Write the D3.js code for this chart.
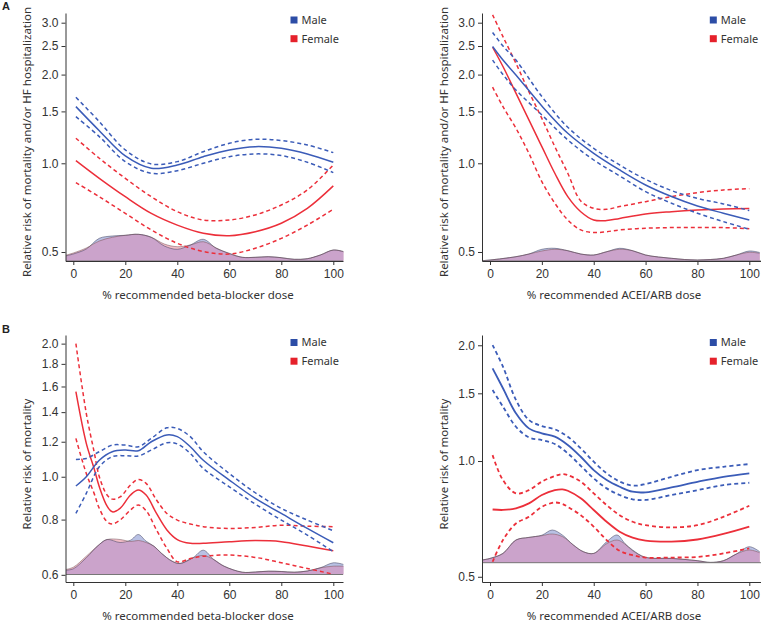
<!DOCTYPE html>
<html><head><meta charset="utf-8">
<script src="https://cdn.jsdelivr.net/npm/d3@7"></script>
<style>
body{margin:0;background:#fff;}
svg{display:block;}
</style></head><body>
<svg id="chart" width="761" height="625"></svg>
<script>
// ---------- DATA ----------
const xTicks = [0, 20, 40, 60, 80, 100];
const yTicksA = [0.5, 1.0, 1.5, 2.0, 2.5, 3.0];
const yTicksB1 = [0.6, 0.8, 1.0, 1.2, 1.4, 1.6, 1.8, 2.0];
const yTicksB2 = [0.5, 1.0, 1.5, 2.0];
const legendLabels = ["Male", "Female"];

// Panel A, beta-blocker
const a1X = [1, 10, 20, 30, 40, 50, 60, 70, 80, 90, 100];
const a1MaleFit = [1.557, 1.29, 1.059, 0.962, 0.987, 1.053, 1.11, 1.139, 1.124, 1.076, 1.008];
const a1MaleHi  = [1.675, 1.385, 1.11, 0.995, 1.013, 1.095, 1.169, 1.206, 1.194, 1.154, 1.087];
const a1MaleLo  = [1.44, 1.232, 1.013, 0.925, 0.944, 1.0, 1.053, 1.076, 1.062, 1.008, 0.93];
const a1FemFit  = [1.021, 0.889, 0.77, 0.676, 0.617, 0.579, 0.568, 0.586, 0.626, 0.703, 0.838];
const a1FemHi   = [1.216, 1.04, 0.889, 0.77, 0.685, 0.642, 0.642, 0.668, 0.722, 0.812, 0.987];
const a1FemLo   = [0.86, 0.77, 0.676, 0.594, 0.535, 0.502, 0.492, 0.515, 0.556, 0.617, 0.698];
const a1DensX = [-3, 0, 5, 10, 15, 20, 25, 30, 35, 40, 45, 50, 55, 60, 65, 70, 75, 80, 85, 90, 95, 100, 104];
const a1DensM = [5, 7, 12, 22.7, 25, 25.7, 26.7, 23.7, 15, 11.7, 16, 21.7, 12.7, 7.7, 3.7, 3.7, 4.3, 3.3, 1.7, 2.3, 6, 11, 9.3];
const a1DensF = [5.7, 8, 13, 20, 23.7, 25.7, 26.7, 23.7, 17, 14.3, 16, 19.3, 13, 7.3, 3.7, 3.7, 4.3, 3.3, 1.7, 2.3, 6, 11, 9.3];

// Panel A, ACEI/ARB
const a2MaleX = [1, 5, 10, 20, 30, 40, 50, 60, 70, 80, 90, 100];
const a2MaleFit = [2.49, 2.24, 1.995, 1.565, 1.264, 1.081, 0.949, 0.844, 0.771, 0.716, 0.677, 0.642];
const a2MaleHi  = [2.78, 2.5, 2.24, 1.684, 1.325, 1.124, 0.987, 0.882, 0.808, 0.76, 0.728, 0.691];
const a2MaleLo  = [2.24, 2.0, 1.774, 1.459, 1.2, 1.026, 0.906, 0.801, 0.732, 0.677, 0.634, 0.597];
const a2FemX = [1, 5, 10, 15, 20, 25, 30, 35, 40, 45, 50, 60, 70, 80, 90, 100];
const a2FemFit = [2.476, 2.13, 1.73, 1.403, 1.139, 0.925, 0.771, 0.685, 0.642, 0.639, 0.65, 0.673, 0.685, 0.694, 0.7, 0.702];
const a2FemHi  = [3.19, 2.69, 2.185, 1.75, 1.42, 1.139, 0.925, 0.745, 0.703, 0.698, 0.713, 0.741, 0.771, 0.795, 0.812, 0.82];
const a2FemLo  = [1.812, 1.557, 1.315, 1.081, 0.866, 0.732, 0.642, 0.594, 0.582, 0.586, 0.594, 0.602, 0.605, 0.606, 0.605, 0.6];
const a2DensX = [-3, 0, 5, 10, 15, 20, 25, 30, 35, 40, 45, 50, 55, 60, 65, 70, 75, 80, 85, 90, 95, 100, 104];
const a2DensM = [0.3, 1, 2.5, 4.3, 7, 11.7, 12.7, 10.3, 7, 6, 9.3, 12.7, 10.3, 6, 4, 2.7, 1.5, 1, 1.5, 2.7, 6, 10, 8.5];
const a2DensF = [0.3, 1, 2.5, 4.3, 7, 10, 11.7, 10.3, 7, 6, 9.3, 11.7, 10.3, 6, 4, 2.7, 1.5, 1, 1.5, 2.7, 6, 8.7, 7.7];

// Panel B, beta-blocker
const b1MaleX = [1, 5, 10, 15, 20, 25, 30, 36, 40, 45, 50, 60, 70, 80, 90, 100];
const b1MaleFit = [0.953, 1.0, 1.09, 1.139, 1.149, 1.145, 1.2, 1.243, 1.232, 1.169, 1.09, 0.983, 0.893, 0.826, 0.764, 0.709];
const b1MaleHi  = [1.094, 1.1, 1.139, 1.179, 1.179, 1.169, 1.221, 1.29, 1.286, 1.232, 1.139, 1.017, 0.92, 0.848, 0.798, 0.755];
const b1MaleLo  = [0.826, 0.917, 1.053, 1.11, 1.116, 1.114, 1.149, 1.194, 1.186, 1.129, 1.044, 0.949, 0.867, 0.798, 0.738, 0.677];
const b1FemX = [1, 5, 8, 10, 13, 15, 18, 22, 25, 28, 32, 36, 40, 45, 50, 60, 70, 80, 90, 100];
const b1FemFit = [1.557, 1.19, 1.044, 0.949, 0.858, 0.833, 0.848, 0.909, 0.933, 0.909, 0.826, 0.758, 0.721, 0.707, 0.707, 0.713, 0.717, 0.713, 0.697, 0.68];
const b1FemHi  = [2.0, 1.39, 1.139, 1.0, 0.909, 0.89, 0.9, 0.958, 0.986, 0.966, 0.886, 0.826, 0.798, 0.782, 0.771, 0.764, 0.768, 0.777, 0.773, 0.771];
const b1FemLo  = [1.221, 1.017, 0.917, 0.848, 0.791, 0.782, 0.798, 0.841, 0.863, 0.838, 0.758, 0.689, 0.642, 0.653, 0.661, 0.665, 0.657, 0.639, 0.62, 0.602];
const b1DensX = [-3, 0, 5, 10, 13, 18, 22, 25, 28, 31, 34, 38, 41, 46, 50, 54, 58, 65, 70, 75, 80, 85, 90, 95, 100, 104];
const b1DensM = [4.3, 5.7, 16.7, 30, 35, 32, 34.3, 40, 33.3, 28.3, 21, 13.3, 11, 16.7, 24.3, 15, 8.3, 2.3, 2.5, 3.3, 3, 2.3, 3.5, 6.7, 11.7, 10];
const b1DensF = [5, 7.3, 18.3, 30, 35, 35, 33, 34, 32, 28.3, 21, 13.3, 11, 16.7, 19, 15, 8.3, 2.3, 2.5, 3.3, 3, 2.3, 3.5, 6.7, 8.3, 8.3];

// Panel B, ACEI/ARB
const b2MaleX = [1, 5, 10, 15, 20, 25, 30, 35, 40, 45, 50, 55, 60, 70, 80, 90, 100];
const b2MaleFit = [1.742, 1.546, 1.331, 1.216, 1.18, 1.157, 1.101, 1.026, 0.947, 0.892, 0.857, 0.832, 0.829, 0.854, 0.883, 0.91, 0.929];
const b2MaleHi  = [2.003, 1.76, 1.442, 1.279, 1.233, 1.209, 1.157, 1.079, 0.996, 0.929, 0.884, 0.863, 0.871, 0.91, 0.947, 0.966, 0.982];
const b2MaleLo  = [1.53, 1.385, 1.228, 1.152, 1.134, 1.107, 1.047, 0.972, 0.901, 0.849, 0.816, 0.795, 0.792, 0.816, 0.84, 0.866, 0.878];
const b2FemX = [1, 5, 10, 15, 20, 25, 28, 30, 35, 40, 45, 50, 55, 60, 70, 80, 90, 100];
const b2FemFit = [0.748, 0.746, 0.753, 0.776, 0.816, 0.84, 0.844, 0.837, 0.8, 0.746, 0.695, 0.655, 0.632, 0.621, 0.617, 0.625, 0.646, 0.675];
const b2FemHi  = [1.036, 0.892, 0.824, 0.84, 0.884, 0.914, 0.925, 0.919, 0.884, 0.824, 0.768, 0.723, 0.695, 0.681, 0.672, 0.681, 0.716, 0.765];
const b2FemLo  = [0.547, 0.623, 0.688, 0.716, 0.76, 0.78, 0.773, 0.76, 0.723, 0.675, 0.623, 0.584, 0.569, 0.561, 0.561, 0.563, 0.575, 0.593];
const b2DensX = [-3, 0, 5, 10, 15, 20, 24, 28, 32, 36, 40, 45, 49, 52, 55, 60, 70, 80, 85, 90, 95, 100, 104];
const b2DensM = [2.7, 4.3, 9.3, 22.7, 25.3, 27.5, 32.7, 27.5, 18, 11, 9.3, 21, 27.7, 19.3, 12.7, 5.3, 4.3, 2, 0.3, 2, 8.7, 16, 11];
const b2DensF = [2.7, 4.3, 9.3, 22.7, 25.3, 27, 28.7, 26, 18, 11, 9.3, 19, 22.7, 18.7, 12, 5.3, 4.3, 2, 0.3, 2, 8.7, 12.7, 10];

// ---------- LAYOUT / STYLE ----------
const C = {
  male: "#3b5cb8", female: "#ec2f3a",
  maleKey: "#2c4da6", femaleKey: "#e5212b",
  densM: "#b9c1e4", densF: "#f3bdc7", densBoth: "#cba3cb",
  axis: "#333", text: "#333"
};
const tickFont = "'Liberation Sans', Arial, sans-serif";
const titleFont = "'Noto Sans', 'Open Sans', sans-serif";

const panels = [
  { letter: "A", left: 65.5, right: 343, top: 13, bottom: 261, x0: 73.3, x100: 333.3,
    yDom: [0.466, 3.236], yTicks: yTicksA, densBase: 261,
    ytitle: "Relative risk of mortality and/or HF hospitalization", ytx: 27, yty: 142,
    xtitle: "% recommended beta-blocker dose", xtx: 198, xty: 299,
    legX: 294, legY: 20,
    male: [a1X, a1MaleFit, a1MaleHi, a1MaleLo], fem: [a1X, a1FemFit, a1FemHi, a1FemLo],
    dens: [a1DensX, a1DensM, a1DensF], lw: 1.5 },
  { letter: null, left: 482, right: 761, top: 13, bottom: 261, x0: 490, x100: 749.3,
    yDom: [0.466, 3.236], yTicks: yTicksA, densBase: 261,
    ytitle: "Relative risk of mortality and/or HF hospitalization", ytx: 443.5, yty: 142,
    xtitle: "% recommended ACEI/ARB dose", xtx: 614, xty: 299,
    legX: 713.3, legY: 20,
    male: [a2MaleX, a2MaleFit, a2MaleHi, a2MaleLo], fem: [a2FemX, a2FemFit, a2FemHi, a2FemLo],
    dens: [a2DensX, a2DensM, a2DensF], lw: 1.5 },
  { letter: "B", left: 65.5, right: 343, top: 335, bottom: 582, x0: 73.3, x100: 333.3,
    yDom: [0.578, 2.092], yTicks: yTicksB1, densBase: 574.5,
    ytitle: "Relative risk of mortality", ytx: 27, yty: 464,
    xtitle: "% recommended beta-blocker dose", xtx: 198, xty: 620,
    legX: 294, legY: 342.5,
    male: [b1MaleX, b1MaleFit, b1MaleHi, b1MaleLo], fem: [b1FemX, b1FemFit, b1FemHi, b1FemLo],
    dens: [b1DensX, b1DensM, b1DensF], lw: 1.5 },
  { letter: null, left: 482, right: 761, top: 335, bottom: 582, x0: 490, x100: 749.3,
    yDom: [0.4846, 2.127], yTicks: yTicksB2, densBase: 562.7,
    ytitle: "Relative risk of mortality", ytx: 443.5, yty: 464,
    xtitle: "% recommended ACEI/ARB dose", xtx: 614, xty: 620,
    legX: 713.3, legY: 342.5,
    male: [b2MaleX, b2MaleFit, b2MaleHi, b2MaleLo], fem: [b2FemX, b2FemFit, b2FemHi, b2FemLo],
    dens: [b2DensX, b2DensM, b2DensF], lw: 1.8 }
];

const svg = d3.select("#chart");
const defs = svg.append("defs");

panels.forEach((p, i) => {
  const k = (p.x100 - p.x0) / 100;
  const x = d3.scaleLinear()
    .domain([(p.left - p.x0) / k, (p.right - p.x0) / k])
    .range([p.left, p.right]);
  const y = d3.scaleLog().domain(p.yDom).range([p.bottom, p.top]);
  const dScale = d3.scaleLinear().domain([0, 40]).range([p.densBase, p.densBase - 40]);

  const clipId = "clip" + i;
  defs.append("clipPath").attr("id", clipId).append("rect")
    .attr("x", p.left + 0.5).attr("y", p.top - 5)
    .attr("width", p.right - p.left).attr("height", p.bottom - p.top + 5);

  const g = svg.append("g");
  const plot = g.append("g").attr("clip-path", `url(#${clipId})`);

  // density areas
  const [dx, dm, df] = p.dens;
  const curve = d3.curveCatmullRom.alpha(0.5);
  const area = d3.area().x(d => x(d[0])).y0(p.densBase).y1(d => dScale(d[1])).curve(curve);
  const line = d3.line().x(d => x(d[0])).y(d => dScale(d[1])).curve(curve);
  const mPts = dx.map((v, j) => [v, dm[j]]);
  const fPts = dx.map((v, j) => [v, df[j]]);
  const bothPts = dx.map((v, j) => [v, Math.min(dm[j], df[j])]);
  plot.append("path").attr("d", area(mPts)).attr("fill", C.densM);
  plot.append("path").attr("d", area(fPts)).attr("fill", C.densF);
  plot.append("path").attr("d", area(bothPts)).attr("fill", C.densBoth);
  plot.append("path").attr("d", line(mPts)).attr("fill", "none")
    .attr("stroke", "#4a4a66").attr("stroke-width", 0.8).attr("stroke-opacity", 0.7);
  plot.append("path").attr("d", line(fPts)).attr("fill", "none")
    .attr("stroke", "#6a4a50").attr("stroke-width", 0.8).attr("stroke-opacity", 0.6);
  plot.append("line").attr("x1", p.left).attr("x2", p.right)
    .attr("y1", p.densBase).attr("y2", p.densBase)
    .attr("stroke", "#777").attr("stroke-width", 1);

  // curves
  const cl = d3.line().x(d => x(d[0])).y(d => y(d[1])).curve(curve);
  const drawSet = (set, color) => {
    const [xs, fit, hi, lo] = set;
    [[hi, "4,3"], [lo, "4,3"], [fit, null]].forEach(([vals, dash]) => {
      const path = plot.append("path")
        .attr("d", cl(xs.map((v, j) => [v, vals[j]])))
        .attr("fill", "none").attr("stroke", color).attr("stroke-width", p.lw);
      if (dash) path.attr("stroke-dasharray", dash);
    });
  };
  drawSet(p.fem, C.female);
  drawSet(p.male, C.male);

  // axes
  const xAxis = d3.axisBottom(x).tickValues(xTicks).tickSize(4).tickSizeOuter(0).tickPadding(4);
  const yAxis = d3.axisLeft(y).tickValues(p.yTicks).tickFormat(d3.format(".1f"))
    .tickSize(4).tickSizeOuter(0).tickPadding(3);
  const gx = g.append("g").attr("transform", `translate(0,${p.bottom})`).call(xAxis);
  const gy = g.append("g").attr("transform", `translate(${p.left},0)`).call(yAxis);
  [gx, gy].forEach(a => {
    a.select(".domain").attr("stroke", C.axis);
    a.selectAll(".tick line").attr("stroke", C.axis);
    a.selectAll(".tick text").attr("fill", C.text)
      .style("font-family", tickFont).style("font-size", "12px");
  });

  // titles
  g.append("text").attr("x", p.xtx).attr("y", p.xty)
    .attr("text-anchor", "middle").attr("fill", C.text)
    .style("font-family", titleFont).style("font-size", "11.5px").text(p.xtitle);
  g.append("text").attr("transform", `translate(${p.ytx},${p.yty}) rotate(-90)`)
    .attr("text-anchor", "middle").attr("dy", "0.35em").attr("fill", C.text)
    .style("font-family", titleFont).style("font-size", "11.5px").text(p.ytitle);

  // legend
  legendLabels.forEach((lab, j) => {
    const ly = p.legY + j * 18.7;
    g.append("rect").attr("x", p.legX - 3.5).attr("y", ly - 3.5)
      .attr("width", 7).attr("height", 7)
      .attr("fill", j === 0 ? C.maleKey : C.femaleKey);
    g.append("text").attr("x", p.legX + 7.5).attr("y", ly).attr("dy", "0.35em")
      .attr("fill", C.text).style("font-family", titleFont).style("font-size", "11px")
      .text(lab);
  });

  if (p.letter) {
    g.append("text").attr("x", 2).attr("y", p.letter === "A" ? 10 : 333)
      .attr("fill", "#222").style("font-family", "'Liberation Sans', Arial, sans-serif")
      .style("font-weight", "bold").style("font-size", "11px").text(p.letter);
  }
});
</script>
</body></html>
